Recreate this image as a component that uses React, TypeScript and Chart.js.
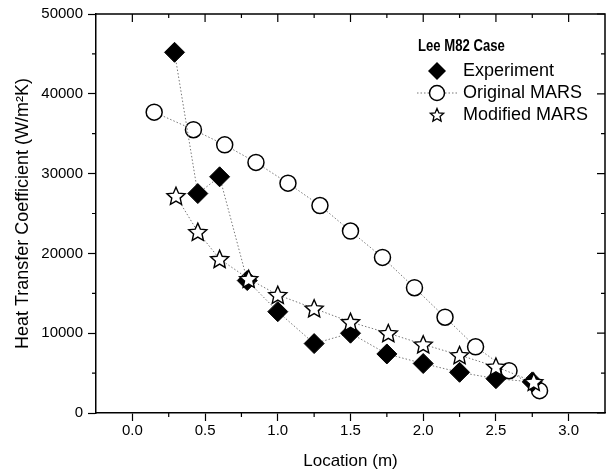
import { useEffect, useRef } from "react";
import { Chart, registerables } from "chart.js";

Chart.register(...registerables);

const FONT = "'Liberation Sans', Arial, sans-serif";

const experimentX = [0.29, 0.45, 0.6, 0.79, 1.0, 1.25, 1.5, 1.75, 2.0, 2.25, 2.5, 2.75];
const experimentY = [45200, 27500, 29600, 16600, 12700, 8700, 10000, 7400, 6200, 5100, 4300, 3900];
const originalX = [0.15, 0.42, 0.635, 0.85, 1.07, 1.29, 1.5, 1.72, 1.94, 2.15, 2.36, 2.59, 2.8];
const originalY = [37700, 35500, 33600, 31400, 28800, 26000, 22800, 19500, 15700, 12000, 8300, 5300, 2800];
const modifiedX = [0.3, 0.45, 0.6, 0.8, 1.0, 1.25, 1.5, 1.76, 2.0, 2.25, 2.5, 2.76];
const modifiedY = [27200, 22700, 19300, 16800, 14800, 13100, 11400, 10000, 8600, 7250, 5800, 3900];

const xMajorTicks = [0, 0.5, 1.0, 1.5, 2.0, 2.5, 3.0];
const xMinorTicks = [0.25, 0.75, 1.25, 1.75, 2.25, 2.75];
const yMajorTicks = [0, 10000, 20000, 30000, 40000, 50000];
const yMinorTicks = [5000, 15000, 25000, 35000, 45000];

const legendTitle = "Lee M82 Case";
const legendLabels = ["Experiment", "Original MARS", "Modified MARS"];

function drawStarPath(ctx: CanvasRenderingContext2D, cx: number, cy: number, R: number, r: number) {
  ctx.beginPath();
  for (let i = 0; i < 10; i++) {
    const rad = i % 2 === 0 ? R : r;
    const a = -Math.PI / 2 + (i * Math.PI) / 5;
    const x = cx + rad * Math.cos(a);
    const y = cy + rad * Math.sin(a);
    if (i === 0) ctx.moveTo(x, y);
    else ctx.lineTo(x, y);
  }
  ctx.closePath();
}

const starPlugin = {
  id: "starPoints",
  afterDatasetDraw(chart: any, args: any) {
    const ds = chart.data.datasets[args.index];
    if (!ds || !ds.isStar) return;
    const ctx: CanvasRenderingContext2D = chart.ctx;
    ctx.save();
    ctx.fillStyle = "#fff";
    ctx.strokeStyle = "#000";
    ctx.lineWidth = 1.4;
    ctx.lineJoin = "miter";
    for (const el of args.meta.data) {
      drawStarPath(ctx, el.x, el.y + 0.8, 9.5, 4.4);
      ctx.fill();
      ctx.stroke();
    }
    ctx.restore();
  },
};

const framePlugin = {
  id: "frameAndLegend",
  afterDatasetsDraw(chart: any) {
    const ctx: CanvasRenderingContext2D = chart.ctx;
    const { left, right, top, bottom } = chart.chartArea;
    const xs = chart.scales.x;
    const ys = chart.scales.y;
    ctx.save();
    ctx.strokeStyle = "#000";
    ctx.lineWidth = 1.5;
    ctx.beginPath();
    ctx.moveTo(left, top);
    ctx.lineTo(right, top);
    ctx.lineTo(right, bottom);
    ctx.stroke();

    ctx.lineWidth = 1.2;
    ctx.beginPath();
    for (const v of xMajorTicks) {
      const px = xs.getPixelForValue(v);
      ctx.moveTo(px, top);
      ctx.lineTo(px, top + 8);
    }
    for (const v of xMinorTicks) {
      const px = xs.getPixelForValue(v);
      ctx.moveTo(px, top);
      ctx.lineTo(px, top + 4);
      ctx.moveTo(px, bottom);
      ctx.lineTo(px, bottom + 4);
    }
    for (const v of yMajorTicks) {
      const py = ys.getPixelForValue(v);
      ctx.moveTo(right, py);
      ctx.lineTo(right - 8, py);
    }
    for (const v of yMinorTicks) {
      const py = ys.getPixelForValue(v);
      ctx.moveTo(right, py);
      ctx.lineTo(right - 4, py);
      ctx.moveTo(left, py);
      ctx.lineTo(left - 4, py);
    }
    ctx.stroke();

    // legend
    ctx.fillStyle = "#000";
    ctx.textBaseline = "middle";
    ctx.textAlign = "left";
    ctx.save();
    ctx.translate(418, 47);
    ctx.scale(0.82, 1);
    ctx.font = `bold 16px ${FONT}`;
    ctx.fillText(legendTitle, 0, 0);
    ctx.restore();

    const mx = 437;
    const tx = 463;
    const rows = [71, 93, 115];
    ctx.font = `18px ${FONT}`;

    // diamond
    ctx.beginPath();
    ctx.moveTo(mx, rows[0] - 9);
    ctx.lineTo(mx + 9, rows[0]);
    ctx.lineTo(mx, rows[0] + 9);
    ctx.lineTo(mx - 9, rows[0]);
    ctx.closePath();
    ctx.fill();
    ctx.fillText(legendLabels[0], tx, rows[0]);

    // circle with line
    ctx.save();
    ctx.strokeStyle = "#777";
    ctx.lineWidth = 1;
    ctx.setLineDash([1.5, 2]);
    ctx.beginPath();
    ctx.moveTo(417, rows[1]);
    ctx.lineTo(458, rows[1]);
    ctx.stroke();
    ctx.restore();
    ctx.beginPath();
    ctx.arc(mx, rows[1], 7.5, 0, Math.PI * 2);
    ctx.fillStyle = "#fff";
    ctx.fill();
    ctx.lineWidth = 1.5;
    ctx.strokeStyle = "#000";
    ctx.stroke();
    ctx.fillStyle = "#000";
    ctx.fillText(legendLabels[1], tx, rows[1]);

    // star
    drawStarPath(ctx, mx, rows[2] + 0.5, 7, 3.2);
    ctx.fillStyle = "#fff";
    ctx.fill();
    ctx.lineWidth = 1.3;
    ctx.stroke();
    ctx.fillStyle = "#000";
    ctx.fillText(legendLabels[2], tx, rows[2]);
    ctx.restore();
  },
};

export default function App() {
  const ref = useRef<HTMLCanvasElement | null>(null);

  useEffect(() => {
    if (!ref.current) return;
    const lineStyle = {
      borderColor: "#777",
      borderWidth: 1,
      borderDash: [1.5, 2],
      showLine: true,
      fill: false,
      tension: 0,
    };
    const chart = new Chart(ref.current, {
      type: "scatter",
      data: {
        datasets: [
          {
            label: legendLabels[2],
            data: modifiedX.map((x, i) => ({ x, y: modifiedY[i] })),
            ...lineStyle,
            isStar: true,
            pointRadius: 0,
            order: 0,
          } as any,
          {
            label: legendLabels[0],
            data: experimentX.map((x, i) => ({ x, y: experimentY[i] })),
            ...lineStyle,
            pointStyle: "rectRot",
            pointRadius: 10,
            pointBackgroundColor: "#000",
            pointBorderColor: "#000",
            pointBorderWidth: 1,
            order: 1,
          },
          {
            label: legendLabels[1],
            data: originalX.map((x, i) => ({ x, y: originalY[i] })),
            ...lineStyle,
            pointStyle: "circle",
            pointRadius: 8,
            pointBackgroundColor: "#fff",
            pointBorderColor: "#000",
            pointBorderWidth: 1.5,
            order: 2,
          },
        ],
      },
      options: {
        animation: false,
        responsive: false,
        layout: { padding: { top: 13, right: 6, left: 0, bottom: 0 } },
        plugins: { legend: { display: false }, tooltip: { enabled: false } },
        scales: {
          x: {
            type: "linear",
            min: -0.25,
            max: 3.25,
            afterBuildTicks: (s: any) => {
              s.ticks = xMajorTicks.map((v) => ({ value: v }));
            },
            afterFit: (s: any) => {
              s.height = 59;
            },
            grid: {
              drawOnChartArea: false,
              drawTicks: true,
              tickLength: 8,
              tickColor: "#000",
              tickWidth: 1.2,
            },
            border: { display: true, color: "#000", width: 1.5 },
            ticks: {
              color: "#000",
              font: { family: FONT, size: 15 },
              padding: 1,
              maxRotation: 0,
              callback: (v: any) => Number(v).toFixed(1),
            },
            title: {
              display: true,
              text: "Location (m)",
              color: "#000",
              font: { family: FONT, size: 17 },
              padding: { top: 0, bottom: 0 },
            },
          },
          y: {
            type: "linear",
            min: 0,
            max: 50000,
            afterBuildTicks: (s: any) => {
              s.ticks = yMajorTicks.map((v) => ({ value: v }));
            },
            afterFit: (s: any) => {
              s.width = 96;
            },
            grid: {
              drawOnChartArea: false,
              drawTicks: true,
              tickLength: 8,
              tickColor: "#000",
              tickWidth: 1.2,
            },
            border: { display: true, color: "#000", width: 1.5 },
            ticks: {
              color: "#000",
              font: { family: FONT, size: 15 },
              padding: 5,
              callback: (v: any) => String(v),
            },
            title: {
              display: true,
              text: "Heat Transfer Coefficient (W/m²K)",
              color: "#000",
              font: { family: FONT, size: 18 },
              padding: { top: 12, bottom: 0 },
            },
          },
        },
      },
      plugins: [starPlugin, framePlugin],
    });
    return () => chart.destroy();
  }, []);

  return (
    <div style={{ position: "absolute", left: 0, top: 0, width: 616, height: 472, background: "#fff" }}>
      <canvas ref={ref} width={616} height={472} style={{ display: "block" }} />
    </div>
  );
}
